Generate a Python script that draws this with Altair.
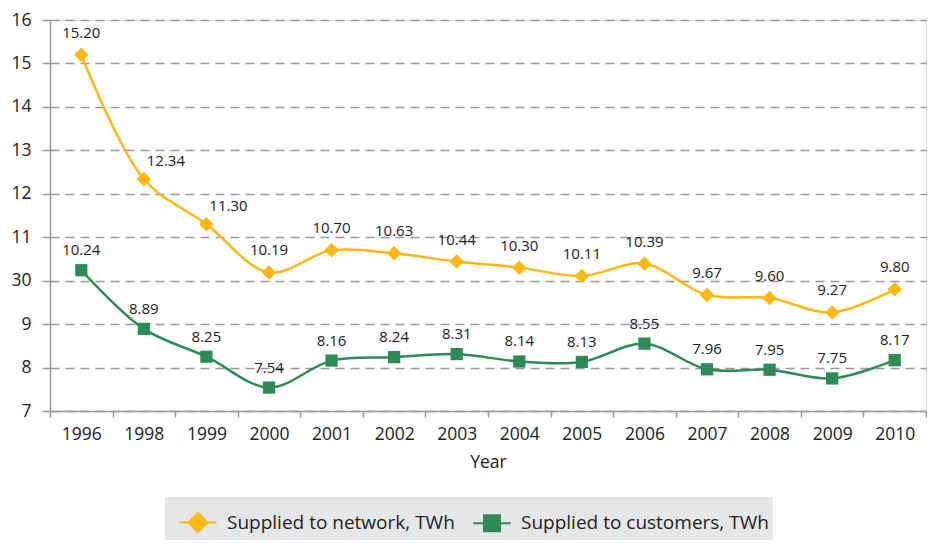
import altair as alt
import pandas as pd

years = ["1996", "1998", "1999", "2000", "2001", "2002", "2003",
         "2004", "2005", "2006", "2007", "2008", "2009", "2010"]
network = [15.20, 12.34, 11.30, 10.19, 10.70, 10.63, 10.44,
           10.30, 10.11, 10.39, 9.67, 9.60, 9.27, 9.80]
customers = [10.24, 8.89, 8.25, 7.54, 8.16, 8.24, 8.31,
             8.14, 8.13, 8.55, 7.96, 7.95, 7.75, 8.17]
series_names = ["Supplied to network, TWh", "Supplied to customers, TWh"]
y_tick_values = [7, 8, 9, 10, 11, 12, 13, 14, 15, 16]
y_tick_labels = ["7", "8", "9", "30", "11", "12", "13", "14", "15", "16"]
shifted_label_years = ["1998", "1999"]  # network labels pushed right in the original

ORANGE = "#FDB813"
GREEN = "#2E8B57"
FONT = "Open Sans"
TEXT = "#222222"

rows = []
for name, vals in zip(series_names, [network, customers]):
    for y, v in zip(years, vals):
        rows.append({"Year": y, "value": v, "series": name, "label": f"{v:.2f}"})
df = pd.DataFrame(rows)

label_expr = "[" + ",".join(f"'{t}'" for t in y_tick_labels) + f"][datum.value - {y_tick_values[0]}]"

# legend symbols: marker with a line through it
net_path = "M-3.7,0H-1.9M1.9,0H3.7M0,-1.9L1.9,0L0,1.9L-1.9,0Z"
cust_path = "M-3.7,0H-1.6M1.6,0H3.7M-1.6,-1.6H1.6V1.6H-1.6Z"

legend = alt.Legend(
    title=" ", titleFontSize=8, titlePadding=4,
    orient="none", legendX=115, legendY=477, direction="horizontal",
    labelFont=FONT, labelFontSize=19, labelColor=TEXT, labelLimit=500,
    labelExpr=f"datum.label + (datum.value === '{series_names[1]}' ? '   ' : '')",
    symbolSize=100, symbolStrokeWidth=2, symbolOffset=19.5, labelOffset=19.5, columnPadding=8,
    fillColor="#E6E7E8", padding=4, symbolOpacity=1,
)
cscale = alt.Scale(domain=series_names, range=[ORANGE, GREEN])

x = alt.X("Year:N", sort=years, title="Year",
          axis=alt.Axis(labelAngle=0, tickBand="extent", grid=False, tickSize=6,
                        labelFont=FONT, labelFontSize=17.5, labelColor=TEXT,
                        titleFont=FONT, titleFontSize=17.5, titleFontWeight="normal",
                        titleColor=TEXT, labelPadding=8, titlePadding=11,
                        domainColor="#999", tickColor="#999", domainWidth=1.5, tickWidth=1.5),
          scale=alt.Scale(paddingInner=0, paddingOuter=0))
y = alt.Y("value:Q", title=None,
          scale=alt.Scale(domain=[7, 16], nice=False, zero=False),
          axis=alt.Axis(values=y_tick_values, labelExpr=label_expr,
                        labelFont=FONT, labelFontSize=17.5, labelColor=TEXT,
                        grid=True, gridDash=[9, 6], gridColor="#999", gridWidth=1.5,
                        tickDash=[9, 6], tickColor="#999", tickSize=8, tickWidth=1.5,
                        domainColor="#999", domainWidth=1.5, labelPadding=11))

base = alt.Chart(df)
lines = base.mark_line(interpolate="catmull-rom", strokeWidth=2.5).encode(
    x=x, y=y, color=alt.Color("series:N", scale=cscale, legend=legend))
pts_net = base.mark_point(filled=True, opacity=1, shape="diamond", size=210).encode(
    x=x, y=y, color=alt.Color("series:N", scale=cscale, legend=legend)
).transform_filter(f"datum.series === '{series_names[0]}'")
pts_cust = base.mark_point(filled=True, opacity=1, shape="square", size=150).encode(
    x=x, y=y, color=alt.Color("series:N", scale=cscale, legend=legend)
).transform_filter(f"datum.series === '{series_names[1]}'")
legend_layer = base.mark_point(filled=True, opacity=1, strokeWidth=2).encode(
    x=x, y=y,
    color=alt.Color("series:N", scale=cscale, legend=legend),
    stroke=alt.Stroke("series:N", scale=cscale, legend=legend),
    shape=alt.Shape("series:N", scale=alt.Scale(domain=series_names, range=[net_path, cust_path]), legend=legend),
).transform_filter("false")

is_net = f"datum.series === '{series_names[0]}'"
is_shift = f"indexof({shifted_label_years}, datum.Year) >= 0"
txt = dict(font=FONT, fontSize=15, color=TEXT)
labels_net = base.mark_text(**txt, dy=-22).encode(x=x, y=y, text="label:N").transform_filter(
    f"{is_net} && !({is_shift})")
labels_net_shift = base.mark_text(**txt, dy=-18, dx=22).encode(x=x, y=y, text="label:N").transform_filter(
    f"{is_net} && {is_shift}")
labels_cust = base.mark_text(**txt, dy=-20).encode(x=x, y=y, text="label:N").transform_filter(
    f"!({is_net})")

chart = alt.layer(lines, pts_net, pts_cust, legend_layer, labels_net, labels_net_shift, labels_cust).properties(
    width=876, height=391, padding={"top": 3, "left": 2, "right": 0, "bottom": 0}
).configure_view(stroke=None).configure(background="white")

chart.save("out.html", embed_options={"renderer": "svg", "actions": False})
